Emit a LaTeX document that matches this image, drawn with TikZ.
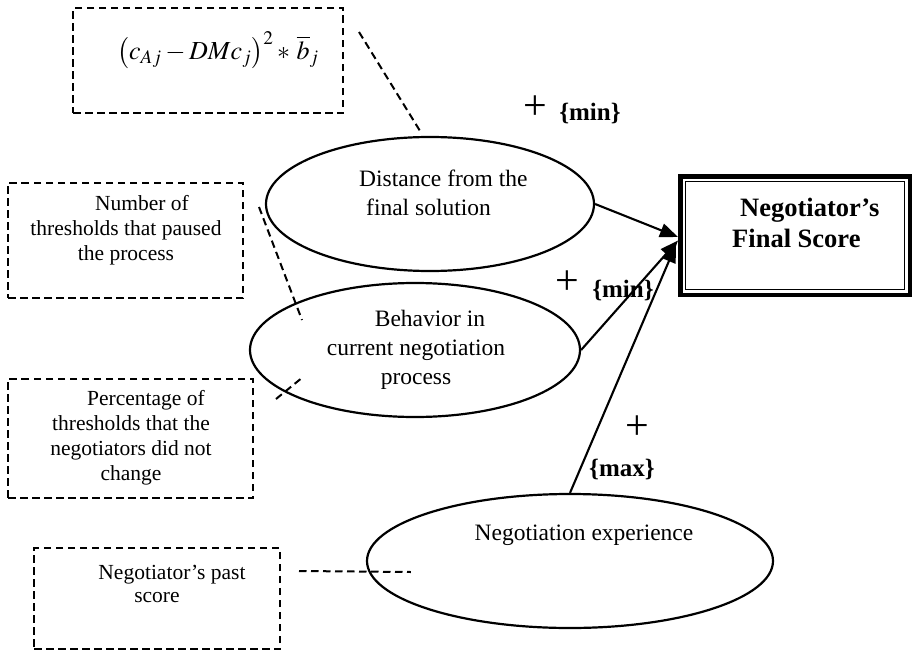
\documentclass[tikz,border=0pt]{standalone}
\usepackage{mathptmx}
\usepackage{fontspec}
\setmainfont{Liberation Serif}
\usetikzlibrary{shapes.geometric,arrows.meta,calc}

\begin{document}
\begin{tikzpicture}[x=1pt,y=-1pt,
  every node/.style={inner sep=0pt},
  oval/.style={draw, ellipse, line width=2.2pt},
  notebox/.style={draw, rectangle, line width=2pt, dash pattern=on 7.5pt off 4.5pt},
  noteline/.style={line width=2pt, dash pattern=on 7.5pt off 4.5pt},
  ovaltext/.style={font=\fontsize{23.5}{29}\selectfont},
  boxtext/.style={font=\fontsize{21.5}{25}\selectfont},
  signtext/.style={font=\fontsize{42}{42}\selectfont},
  tagtext/.style={font=\fontsize{25}{28}\selectfont\bfseries},
  link/.style={line width=2.1pt, -{Triangle[length=18pt,width=14pt]}},
  scorebox/.style={draw, rectangle, line width=4.5pt}]

\useasboundingbox (0,0) rectangle (913,653);

% factor ovals
\node[oval, minimum width=328pt, minimum height=134pt] (dist) at (430,204) {};
\node[oval, minimum width=330pt, minimum height=134pt] (behav) at (415,350) {};
\node[oval, minimum width=406pt, minimum height=134pt] (exper) at (570,561) {};

\node[ovaltext, align=left, anchor=west] (distlbl) at (359,192.5)
  {Distance from the\\\hspace*{7pt}final solution};
\node[ovaltext, align=center] (behavlbl) at (416,350)
  {\hspace*{28pt}Behavior in\\current negotiation\\process};
\node[ovaltext] (experlbl) at (584,535) {Negotiation experience};

% outcome box with double frame
\node[scorebox, minimum width=229.5pt, minimum height=118.5pt] (score) at (795,235.5) {};
\draw[line width=1.3pt] ($(score.north west)+(7.5,7.5)$) rectangle ($(score.south east)+(-7.5,-7.5)$);
\node[font=\fontsize{26.5}{31}\selectfont\bfseries, align=left, anchor=west] (scorelbl) at (732,222.5)
  {\hspace*{8pt}Negotiator’s\\Final Score};

% dashed indicator boxes
\node[notebox, minimum width=270pt, minimum height=105pt] (formbox) at (208,60.5) {};
\node[notebox, minimum width=235pt, minimum height=115pt] (pausebox) at (125.5,240.5) {};
\node[notebox, minimum width=245pt, minimum height=119pt] (pctbox) at (130.5,438.5) {};
\node[notebox, minimum width=246pt, minimum height=101pt] (pastbox) at (157,598.5) {};

\node[font=\fontsize{26}{30}\selectfont] (formula) at (218,50)
  {$\bigl(c_{Aj}-DMc_{j}\bigr)^{2}*\,\overline{b}_{j}$};
\node[boxtext, align=center] (pauselbl) at (126,230)
  {\hspace*{32pt}Number of\\thresholds that paused\\the process};
\node[boxtext, align=center] (pctlbl) at (131,437.5)
  {\hspace*{30pt}Percentage of\\thresholds that the\\negotiators did not\\change};
\node[font=\fontsize{21.5}{23}\selectfont, align=center] (pastlbl) at (172,583.5)
  {Negotiator’s past\\score\hspace*{30pt}};

% dashed links from indicators to factors
\draw[noteline] ($(formbox.north east)+(15,25)$) -- ($(dist.north)+(-10,-5)$);
\draw[noteline] ($(pausebox.north east)+(15,25)$) -- ($(behav.center)+(-113,-30)$);
\draw[noteline] ($(pctbox.north east)+(22,21)$) -- ($(behav.center)+(-112,27)$);
\draw[noteline] ($(pastbox.north east)+(18,24)$) -- ($(exper.west)+(45,11)$);

% weighted links into the final score
\draw[link] (dist.east) -- ($(score.west)+(0,1.5)$);
\draw[link] (behav.east) -- ($(score.west)+(0,5)$);
\draw[link] (exper.north) -- ($(score.west)+(-2,9)$);

% signs and optimisation tags
\node[signtext] (plusa) at (535,108) {+};
\node[tagtext] (taga) at (590,113) {\{min\}};
\node[signtext] (plusb) at (567,283) {+};
\node[tagtext] (tagb) at (623,290) {\{min\}};
\node[signtext] (plusc) at (637,428) {+};
\node[tagtext] (tagc) at (622,469) {\{max\}};

\end{tikzpicture}
\end{document}
